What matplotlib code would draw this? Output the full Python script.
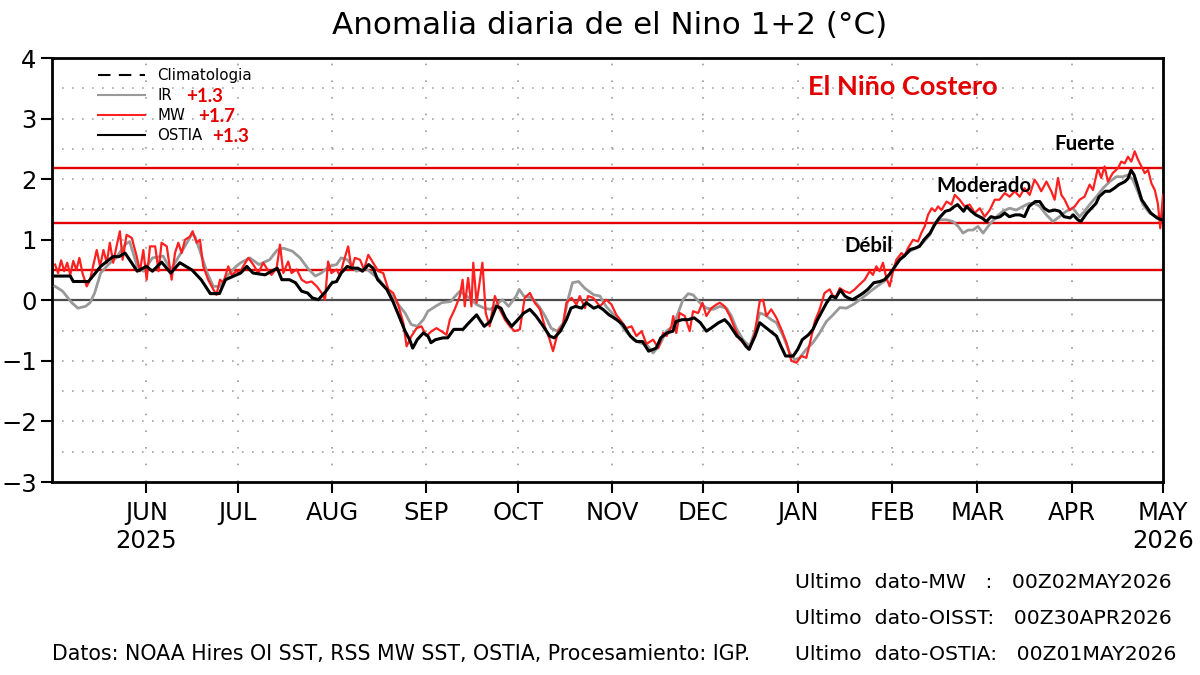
import datetime
import numpy as np
import matplotlib
matplotlib.use("Agg")
from matplotlib import pyplot as plt
from matplotlib import dates as mdates
from matplotlib import font_manager

# --- data (days since 2025-05-01, anomaly in degC) ---
ostia_days = [1, 6, 7, 12, 16, 18, 20, 22, 24, 28, 31, 33, 36, 39, 42, 46, 49, 52, 55, 57,
              62, 64, 66, 70, 74, 75.5, 78, 80, 82, 84, 85.5, 87.5, 90, 92, 93.5, 95, 97, 98.5, 100.5, 102,
              104, 105.5, 107, 110, 112, 114, 116, 117.5, 118.5, 120, 122, 123.5, 124.5, 126, 128.5, 130, 132, 135, 137, 139.5,
              140.5, 142, 144, 146, 147.5, 149, 151, 152.5, 155, 157, 159, 161, 163.5, 165, 167, 169, 170.5, 172, 174, 175.5,
              178, 179.5, 181, 183, 185.5, 187.5, 190, 192, 194, 196, 198.5, 200, 202, 204, 205, 207, 209, 211, 213, 215,
              216.5, 219, 221, 222.5, 225, 226.5, 228, 229, 231, 232.5, 234, 236, 238, 239.5, 241, 243.5, 245, 246.5, 248.5, 250,
              251.5, 253, 254.5, 256, 257.5, 259, 260.5, 261.5, 263, 265, 266.5, 268, 270, 272, 273.5, 275, 277, 278.5, 280, 282,
              283.5, 285, 286.5, 288.5, 290, 291.5, 293.5, 295, 296.5, 297.5, 299.5, 300.5, 302, 303.5, 305.5, 307, 308.5, 310, 311.5, 313,
              314.5, 316.5, 318, 319.5, 321, 323, 324.5, 326, 327.5, 329.5, 331, 332.5, 334.5, 335.5, 337, 338, 340, 341.5, 343, 344,
              346, 347.5, 349, 350.5, 352.5, 353.5, 354.5, 355.5, 356.5, 358, 359.5, 361, 363, 364.5, 365]
ostia_vals = [0.40, 0.40, 0.31, 0.31, 0.56, 0.64, 0.72, 0.72, 0.78, 0.48, 0.56, 0.48, 0.63, 0.45, 0.62, 0.50, 0.34, 0.11, 0.11, 0.34,
              0.45, 0.56, 0.45, 0.42, 0.53, 0.34, 0.34, 0.29, 0.15, 0.12, 0.04, 0.01, 0.15, 0.29, 0.31, 0.45, 0.56, 0.53, 0.53, 0.48,
              0.59, 0.53, 0.34, 0.18, -0.02, -0.26, -0.51, -0.65, -0.79, -0.65, -0.54, -0.59, -0.70, -0.65, -0.62, -0.62, -0.48, -0.48, -0.37, -0.24,
              -0.32, -0.43, -0.35, -0.10, -0.13, -0.29, -0.43, -0.35, -0.21, -0.15, -0.26, -0.40, -0.59, -0.62, -0.51, -0.32, -0.13, -0.10, -0.13, -0.04,
              -0.13, -0.10, -0.15, -0.24, -0.32, -0.40, -0.59, -0.68, -0.68, -0.84, -0.79, -0.62, -0.54, -0.51, -0.35, -0.32, -0.32, -0.29, -0.37, -0.51,
              -0.46, -0.37, -0.32, -0.40, -0.59, -0.65, -0.76, -0.81, -0.59, -0.37, -0.43, -0.51, -0.59, -0.76, -0.92, -0.92, -0.81, -0.65, -0.57, -0.48,
              -0.32, -0.18, -0.04, 0.07, 0.04, 0.17, 0.07, 0.04, 0.01, 0.07, 0.12, 0.18, 0.29, 0.31, 0.34, 0.42, 0.56, 0.67, 0.73, 0.84,
              0.86, 0.89, 1.00, 1.11, 1.25, 1.36, 1.47, 1.49, 1.55, 1.58, 1.47, 1.55, 1.47, 1.41, 1.36, 1.30, 1.38, 1.36, 1.38, 1.44,
              1.38, 1.41, 1.41, 1.38, 1.55, 1.63, 1.63, 1.52, 1.47, 1.49, 1.47, 1.38, 1.36, 1.41, 1.33, 1.30, 1.44, 1.52, 1.60, 1.71,
              1.80, 1.80, 1.85, 1.91, 1.96, 2.01, 2.15, 2.07, 1.91, 1.66, 1.55, 1.44, 1.36, 1.33, 1.33]

ir_days = [1, 3.5, 6.5, 8.5, 11, 12.5, 14, 16, 18.5, 21, 24, 25.5, 28, 30, 33, 36.5, 39, 42, 44, 46,
           47, 48.5, 51, 53, 55, 57.5, 60.5, 62, 65, 68, 71.5, 74, 76, 79, 81.5, 84, 86.5, 88.5, 91, 93.5,
           95, 97, 100, 103, 105, 107.5, 110.5, 113, 116, 118, 120, 122, 123.5, 126, 128, 131, 132, 134, 137, 139.5,
           142, 144, 146, 148, 150, 152.5, 153.5, 155, 157.5, 160, 162, 164, 166, 168, 169.5, 171, 173, 175, 178, 180,
           182, 184, 186, 188, 191, 193, 195.3, 197.5, 199.7, 201.8, 204, 205.7, 207.3, 209, 210.6, 212.8, 215, 217.2, 219.4, 221.6,
           223.2, 224.8, 227, 229.2, 230.9, 232.5, 234.2, 236.3, 238, 240.2, 242.4, 244, 245.6, 247.8, 250, 252.2, 254.4, 256.6, 258.8, 261,
           263.2, 265.4, 267.5, 269.7, 271.9, 274.1, 276.3, 277.9, 280.1, 281.8, 283.9, 286.1, 288.4, 290, 291.6, 293.8, 296, 297.7, 299.3, 301,
           302.6, 304.2, 305.9, 308, 310.3, 312.4, 314.6, 316.8, 319, 321, 322.8, 324.5, 326.7, 328.8, 331, 333.2, 335.4, 337.6, 339.2, 340.9,
           343.1, 345.3, 347.5, 349.7, 351.8, 353.5, 355.1, 356.7, 358.4, 360.6, 362.8, 364]
ir_vals = [0.23, 0.15, -0.04, -0.13, -0.10, -0.04, 0.12, 0.45, 0.59, 0.70, 0.92, 0.97, 0.56, 0.48, 0.70, 0.73, 0.50, 0.75, 0.92, 1.10,
           1.05, 0.83, 0.45, 0.23, 0.23, 0.40, 0.56, 0.62, 0.70, 0.59, 0.67, 0.83, 0.86, 0.81, 0.70, 0.53, 0.40, 0.45, 0.56, 0.59,
           0.70, 0.67, 0.48, 0.53, 0.45, 0.34, 0.15, -0.02, -0.21, -0.40, -0.43, -0.32, -0.18, -0.10, -0.04, -0.02, 0.04, 0.15, 0.04, -0.07,
           -0.13, -0.15, -0.07, 0.01, -0.10, 0.07, 0.18, 0.07, 0.04, -0.10, -0.26, -0.46, -0.51, -0.37, 0.01, 0.29, 0.31, 0.20, 0.09, 0.07,
           -0.10, -0.21, -0.32, -0.48, -0.65, -0.70, -0.73, -0.87, -0.73, -0.51, -0.43, -0.21, 0.01, 0.11, 0.09, -0.04, -0.13, -0.15, -0.10, -0.13,
           -0.26, -0.46, -0.65, -0.76, -0.51, -0.21, -0.24, -0.32, -0.37, -0.59, -0.87, -0.98, -0.95, -0.81, -0.70, -0.54, -0.35, -0.24, -0.12, -0.13,
           -0.07, 0.01, 0.09, 0.18, 0.26, 0.34, 0.51, 0.67, 0.75, 0.81, 0.86, 0.95, 1.08, 1.27, 1.33, 1.33, 1.30, 1.22, 1.11, 1.16,
           1.16, 1.22, 1.11, 1.25, 1.38, 1.47, 1.52, 1.49, 1.55, 1.60, 1.60, 1.55, 1.41, 1.30, 1.38, 1.47, 1.52, 1.38, 1.47, 1.58,
           1.71, 1.85, 1.96, 2.04, 2.04, 2.07, 1.99, 1.80, 1.58, 1.44, 1.38, 1.38]

mw_days = [1, 2, 3, 4, 5, 6, 7, 8, 9, 10, 11.4, 12.5, 14.7, 15.8, 16.9, 18, 19, 20.1, 21.2, 22.3,
           23.2, 24.5, 26.2, 27.8, 28.9, 30, 31.1, 32.2, 33.9, 35, 36, 37.7, 39.3, 40.4, 41.5, 42.6, 43.7, 45.3, 46.2, 47.5,
           48.6, 49.7, 51.3, 53, 54, 55.2, 56.3, 57.9, 59, 60.6, 61.7, 62.8, 64.5, 66.1, 67.8, 69.4, 70.5, 72.1, 73.8, 74.9,
           76, 77.6, 78.7, 80.4, 82, 83.6, 85.3, 87, 88.6, 89.7, 90.7, 91.8, 93.5, 94.6, 95.7, 97.3, 98.4, 99.5, 101.2, 102.5,
           103.9, 105.5, 107.2, 108.8, 110.5, 112.1, 113.7, 115.4, 116.5, 118.1, 119.8, 121.4, 123, 124.7, 126.3, 127.9, 129.6, 130.7, 132.3, 134,
           134.9, 135.6, 136.7, 137.8, 138.4, 139.5, 140.3, 141.4, 142.5, 143.8, 145.5, 147.1, 148.8, 150.4, 152, 153.7, 155.3, 157, 158.6, 160.3,
           161.9, 163.5, 164.6, 166.3, 167.9, 169, 170.7, 172.3, 173.4, 175.1, 176.1, 177.8, 180, 182.1, 183.8, 185.4, 187.1, 188.7, 190.4, 192,
           193.7, 195.3, 197.5, 199.2, 200.8, 201.9, 203.5, 204.1, 205.1, 206.2, 207.9, 209.5, 210.6, 212.3, 213.7, 215, 216.6, 218.3, 219.4, 221,
           222.7, 224.3, 226, 227.6, 229.2, 230.9, 232.5, 233.6, 234.7, 236.3, 238, 239.6, 241.3, 242.9, 244.6, 246.2, 247.8, 248.9, 250.6, 252.2,
           253.8, 255.5, 256.6, 257.7, 258.8, 260.4, 262.1, 263.7, 265.3, 267, 268.6, 269.7, 270.8, 271.9, 273, 274.1, 275.2, 276.3, 277.4, 279.1,
           280.1, 281.2, 282.9, 284.5, 285.6, 286.7, 287.8, 289, 290.1, 291.1, 292.2, 293.9, 295.5, 296.6, 298.2, 299.8, 301.5, 303.1, 304.8, 306.4,
           308.1, 309.7, 311.3, 313, 314.6, 316.3, 317.9, 319.5, 321.2, 322.8, 323.9, 325, 326.7, 328.3, 329.4, 330.5, 331.6, 332.7, 334.3, 336,
           337.6, 339.2, 340.9, 342, 343.6, 344.7, 345.8, 346.9, 348.5, 350.2, 351.3, 352.4, 353.5, 354.6, 355.7, 356.8, 357.9, 359, 360.1, 361.2,
           362.3, 363.3, 364.1, 365]
mw_vals = [0.59, 0.45, 0.66, 0.48, 0.62, 0.42, 0.65, 0.50, 0.70, 0.45, 0.23, 0.34, 0.83, 0.56, 0.83, 0.62, 0.95, 0.62, 0.89, 1.14,
           0.67, 1.08, 1.03, 0.73, 0.48, 0.83, 0.34, 0.89, 0.89, 0.48, 0.95, 0.89, 0.34, 0.78, 0.95, 0.78, 1.00, 1.05, 1.14, 0.95,
           1.00, 0.56, 0.34, 0.18, 0.09, 0.34, 0.29, 0.56, 0.42, 0.48, 0.45, 0.56, 0.70, 0.59, 0.45, 0.62, 0.53, 0.42, 0.53, 0.92,
           0.45, 0.64, 0.45, 0.51, 0.34, 0.29, 0.31, 0.23, 0.12, 0.01, 0.64, 0.45, 0.51, 0.40, 0.62, 0.89, 0.51, 0.70, 0.67, 0.51,
           0.75, 0.62, 0.48, 0.45, 0.18, 0.12, -0.07, -0.37, -0.76, -0.59, -0.46, -0.43, -0.59, -0.51, -0.46, -0.51, -0.57, -0.32, -0.15, 0.07,
           0.34, -0.10, 0.37, -0.10, 0.62, -0.04, 0.23, 0.62, -0.21, -0.43, 0.07, -0.15, -0.32, -0.43, -0.51, -0.48, 0.04, 0.12, -0.04, -0.15,
           -0.43, -0.65, -0.84, -0.51, -0.40, -0.04, 0.04, -0.07, 0.07, -0.13, 0.07, 0.04, -0.10, 0.01, -0.07, -0.24, -0.35, -0.46, -0.43, -0.59,
           -0.51, -0.72, -0.65, -0.79, -0.54, -0.59, -0.43, -0.26, -0.54, -0.21, -0.26, -0.51, -0.18, -0.21, -0.04, -0.26, -0.13, -0.07, -0.04, -0.10,
           -0.26, -0.46, -0.65, -0.73, -0.81, -0.54, -0.02, 0.01, -0.26, -0.15, -0.29, -0.48, -0.70, -1.00, -1.03, -0.92, -0.95, -0.73, -0.35, -0.15,
           0.12, 0.18, 0.07, 0.07, 0.20, 0.15, 0.12, 0.18, 0.26, 0.34, 0.48, 0.42, 0.56, 0.48, 0.62, 0.37, 0.23, 0.48, 0.67, 0.78,
           0.73, 0.86, 1.00, 0.97, 1.11, 1.22, 1.41, 1.52, 1.47, 1.55, 1.49, 1.63, 1.58, 1.74, 1.66, 1.55, 1.58, 1.44, 1.52, 1.38,
           1.49, 1.66, 1.66, 1.77, 1.71, 1.80, 1.71, 1.85, 1.74, 1.99, 1.91, 1.80, 1.96, 1.80, 1.66, 2.02, 1.74, 1.66, 1.49, 1.55,
           1.66, 1.71, 1.91, 1.82, 2.18, 2.02, 2.21, 1.96, 2.10, 2.18, 2.29, 2.26, 2.37, 2.29, 2.46, 2.32, 2.21, 2.10, 2.15, 1.93,
           1.82, 1.60, 1.19, 1.74]

thresholds = [0.5, 1.27, 2.19]
threshold_names = ["Débil", "Moderado", "Fuerte"]
tick_months = [(2025, 6), (2025, 7), (2025, 8), (2025, 9), (2025, 10), (2025, 11), (2025, 12),
               (2026, 1), (2026, 2), (2026, 3), (2026, 4), (2026, 5)]
tick_labels = ["JUN\n2025", "JUL", "AUG", "SEP", "OCT", "NOV", "DEC", "JAN", "FEB", "MAR", "APR", "MAY\n2026"]
last_values = {"IR": "+1.3", "MW": "+1.7", "OSTIA": "+1.3"}

# pick a narrow face if there is one, the original text is squeezed
names = {f.name for f in font_manager.fontManager.ttflist}
narrow = "DejaVu Sans"
for cand in ["DejaVu Sans Condensed", "Liberation Sans Narrow"]:
    if cand in names:
        narrow = cand
        break
k = 1.16 if narrow != "DejaVu Sans" else 1.0
plt.rcParams["font.family"] = [narrow, "DejaVu Sans"]
bold_face = ["Lato", "Open Sans", "DejaVu Sans"]

W, H = 1200, 675
fig = plt.figure(figsize=(12, 6.75), dpi=100)
ax = fig.add_axes([52 / W, 1 - 482 / H, 1111 / W, 424 / H])

base = mdates.date2num(datetime.date(2025, 5, 1))
x_ir = base + np.array(ir_days)
x_mw = base + np.array(mw_days)
x_os = base + np.array(ostia_days)

# grid (dotted)
ticks = [mdates.date2num(datetime.date(y, m, 1)) for y, m in tick_months]
for t in ticks:
    ax.axvline(t, color="#9a9a9a", lw=1.2, ls=(0, (1, 9)), zorder=0)
for yv in np.arange(-2.5, 4.0, 0.5):
    ax.axhline(yv, color="#a5a5a5", lw=1.2, ls=(0, (1, 5)), zorder=0)

ax.axhline(0, color="#4a4a4a", lw=1.6, zorder=1)
for th in thresholds:
    ax.axhline(th, color="#e30000", lw=1.7, zorder=2)

ax.plot(x_ir, ir_vals, color="#999999", lw=2.0, zorder=3)
ax.plot(x_mw, mw_vals, color="#ff2020", lw=1.6, zorder=4)
ax.plot(x_os, ostia_vals, color="black", lw=2.2, zorder=5)

# legend handles
ax.plot([], [], color="black", lw=1.5, ls=(0, (6, 4)), label="Climatologia")
ax.plot([], [], color="#999999", lw=1.5, label="IR")
ax.plot([], [], color="#ff2020", lw=1.5, label="MW")
ax.plot([], [], color="black", lw=1.5, label="OSTIA")
h, l = ax.get_legend_handles_labels()
ax.legend(h, l, loc="upper left", bbox_to_anchor=(46 / 1111, (482 - 68) / 424), frameon=False,
          fontsize=10.8 * k, handlelength=3.1, handletextpad=0.85, labelspacing=0.33,
          borderpad=0, borderaxespad=0)

ax.set_xlim(base, base + 365)
ax.set_ylim(-3, 4)
ax.set_yticks(range(-3, 5))
ax.set_xticks(ticks)
ax.set_xticklabels(tick_labels)
ax.tick_params(axis="both", length=8, width=1.5, labelsize=17.5 * k)
ax.tick_params(axis="x", pad=6)
ax.tick_params(axis="y", pad=3)
for s in ax.spines.values():
    s.set_linewidth(2.0)

def px(x, y):
    return x / W, 1 - y / H

fig.text(*px(610, 25), "Anomalia diaria de el Nino 1+2 (°C)", fontsize=22.3 * k, ha="center", va="center")

for (x, y), txt in zip([(186, 96), (198, 116), (212, 136)], last_values.values()):
    fig.text(*px(x, y), txt, color="#e30000", fontsize=13.5, fontweight="bold",
             family=bold_face, ha="left", va="center")

fig.text(*px(903, 87), "El Niño Costero", color="#e30000", fontsize=19.5, fontweight="bold",
         family=bold_face, ha="center", va="center")
for (x, y), txt in zip([(869, 246), (984, 186), (1085, 144)], threshold_names):
    fig.text(*px(x, y), txt, color="black", fontsize=14.8, fontweight="bold",
             family=bold_face, ha="center", va="center")

fig.text(*px(52, 654), "Datos: NOAA Hires OI SST, RSS MW SST, OSTIA, Procesamiento: IGP.",
         fontsize=14.8 * k, ha="left", va="center")
notes = ["Ultimo  dato-MW   :   00Z02MAY2026",
         "Ultimo  dato-OISST:   00Z30APR2026",
         "Ultimo  dato-OSTIA:   00Z01MAY2026"]
for y, txt in zip([583, 618, 654], notes):
    fig.text(*px(795, y), txt, fontsize=14.7 * k, ha="left", va="center")

fig.savefig("out.png", dpi=100)
